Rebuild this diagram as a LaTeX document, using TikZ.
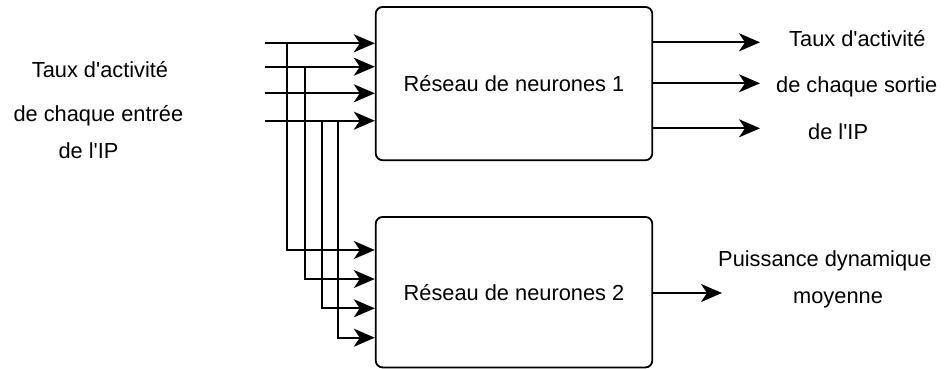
\documentclass[tikz,border=0pt]{standalone}
\usepackage{fontspec}
\setmainfont{Liberation Sans}[Ligatures=TeXOff]
\usetikzlibrary{arrows.meta}
\begin{document}
\begin{tikzpicture}[x=1pt,y=-1pt,
  font=\fontsize{21.8}{26}\selectfont,
  wire/.style={line width=1.8pt},
  arr/.style={wire,-{Stealth[length=21pt,width=18pt,inset=6pt]}},
  netbox/.style={draw,line width=1.8pt,rounded corners=7pt,minimum width=276.6pt,text height=16pt,text depth=0pt,inner sep=0pt},
  lbl/.style={anchor=base west,inner sep=0pt}]
\useasboundingbox (0,0) rectangle (944,369);
% boxes
\node[netbox,minimum height=153.3pt] (box1) at (514,83.6) {Réseau de neurones 1};
\node[netbox,minimum height=150.5pt] (box2) at (514,292.2) {Réseau de neurones 2};
% input starts
\coordinate (in1) at (265,43.3);
\coordinate (in2) at (265,66.7);
\coordinate (in3) at (265,93.3);
\coordinate (in4) at (265,120.7);
% junctions
\coordinate (j1) at (287,43.3);
\coordinate (j2) at (305,66.7);
\coordinate (j3) at (322,120.7);
\coordinate (j4) at (338,120.7);
% box2 inputs
\coordinate (t1) at (box2.west |- 0,250);
\coordinate (t2) at (box2.west |- 0,279);
\coordinate (t3) at (box2.west |- 0,308.3);
\coordinate (t4) at (box2.west |- 0,337.7);
% inputs to box1
\draw[arr] (in1) -- (in1 -| box1.west);
\draw[arr] (in2) -- (in2 -| box1.west);
\draw[arr] (in3) -- (in3 -| box1.west);
\draw[arr] (in4) -- (in4 -| box1.west);
% branches to box2
\draw[arr] (j1) |- (t1);
\draw[arr] (j2) |- (t2);
\draw[arr] (j3) |- (t3);
\draw[arr] (j4) |- (t4);
% outputs
\coordinate (o1) at (760,42.3);
\coordinate (o2) at (760,83.3);
\coordinate (o3) at (760,128.3);
\coordinate (o4) at (722,293);
\draw[arr] (o1 -| box1.east) -- (o1);
\draw[arr] (o2 -| box1.east) -- (o2);
\draw[arr] (o3 -| box1.east) -- (o3);
\draw[arr] (o4 -| box2.east) -- (o4);
% texts
\node[lbl] (l1) at (31.7,77.3) {Taux d'activité};
\node[lbl] (l2) at (13.3,121.7) {de chaque entrée};
\node[lbl] (l3) at (58.3,158) {de l'IP};
\node[lbl] (r1) at (789,46.7) {Taux d'activité};
\node[lbl] (r2) at (776,92.7) {de chaque sortie};
\node[lbl] (r3) at (808,139) {de l'IP};
\node[lbl] (p1) at (718,266.7) {Puissance dynamique};
\node[lbl] (p2) at (793,303) {moyenne};
\end{tikzpicture}
\end{document}
